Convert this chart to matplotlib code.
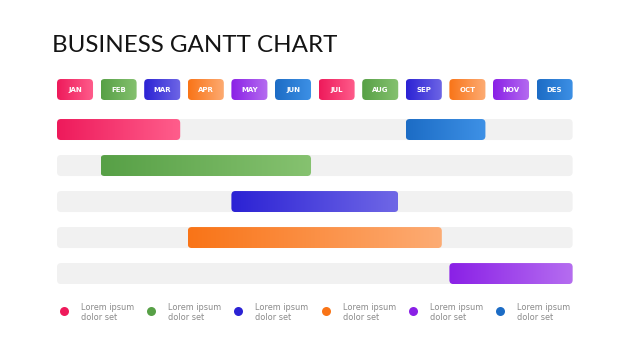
import numpy as np
import matplotlib.pyplot as plt
from matplotlib.patches import FancyBboxPatch
from matplotlib.colors import LinearSegmentedColormap

# data
months = ["JAN", "FEB", "MAR", "APR", "MAY", "JUN",
          "JUL", "AUG", "SEP", "OCT", "NOV", "DES"]
palette = [("#EE1A5B", "#FF5E8C"),   # pink
           ("#57A046", "#86C270"),   # green
           ("#2B22D4", "#6F67E6"),   # indigo
           ("#F97417", "#FDAC74"),   # orange
           ("#8A20E6", "#B56DF0"),   # purple
           ("#1C6CC5", "#3E91E6")]   # blue
month_color = [0, 1, 2, 3, 4, 5, 0, 1, 2, 3, 4, 5]

task_row = [0, 0, 1, 2, 3, 4]
task_start = [0, 8, 1, 4, 3, 9]     # first month index
task_end = [2, 9, 5, 7, 8, 11]      # last month index (inclusive)
task_color = [0, 5, 1, 2, 3, 4]

legend_labels = ["Lorem ipsum\ndolor set"] * 6
n_rows = 5

# layout (month slot = 1 unit, row pitch = 1 unit)
BOX_W = 0.826
BAR_H = 0.583
RAD = 0.092
ASPECT = 43.6 / 36


def grad_box(ax, x, y, w, h, c0, c1, z):
    patch = FancyBboxPatch((x, y), w, h,
                           boxstyle=f"round,pad=0,rounding_size={RAD}",
                           mutation_aspect=ASPECT, linewidth=0,
                           facecolor="none", zorder=z)
    ax.add_patch(patch)
    cmap = LinearSegmentedColormap.from_list("g", [c0, c1])
    im = ax.imshow(np.linspace(0, 1, 256)[None, :], cmap=cmap,
                   extent=[x, x + w, y + h, y], aspect="auto",
                   interpolation="bilinear", zorder=z)
    im.set_clip_path(patch)


fig = plt.figure(figsize=(6.26, 3.52), dpi=100)
fig.patch.set_facecolor("white")
ax = fig.add_axes([57 / 626, 68 / 352, 516 / 626, 205 / 352])

# month header
for i, m in enumerate(months):
    c0, c1 = palette[month_color[i]]
    grad_box(ax, i, -1.111 - BAR_H / 2, BOX_W, BAR_H, c0, c1, 3)
    ax.text(i + BOX_W / 2, -1.111, m, ha="center", va="center",
            color="white", fontsize=5, fontweight="bold",
            family="DejaVu Sans", zorder=4)

# tracks
for r in range(n_rows):
    ax.add_patch(FancyBboxPatch((0, r - BAR_H / 2), 11 + BOX_W, BAR_H,
                                boxstyle=f"round,pad=0,rounding_size={RAD}",
                                mutation_aspect=ASPECT, linewidth=0,
                                facecolor="#F1F1F1", zorder=1))

# task bars
for r, s, e, c in zip(task_row, task_start, task_end, task_color):
    c0, c1 = palette[c]
    grad_box(ax, s, r - BAR_H / 2, e - s + BOX_W, BAR_H, c0, c1, 2)

# legend
for k, lab in enumerate(legend_labels):
    x = 0.16 + 2 * k
    ax.scatter([x], [5.04], s=42, color=palette[k][0], zorder=3,
               clip_on=False, linewidths=0)
    ax.text(x + 0.39, 5.08, lab, ha="left", va="center", fontsize=5.9,
            color="#8A8A8A", linespacing=1.2, clip_on=False)

ax.set_xlim(0, 516 / 43.6)
ax.set_ylim(4.29, -1.403)
ax.axis("off")

fig.text(52 / 626, 1 - 52 / 352, "BUSINESS GANTT CHART", fontsize=17.4,
         color="#141414", family="Lato", va="baseline", ha="left")

fig.savefig("out.png", dpi=100, facecolor="white")
